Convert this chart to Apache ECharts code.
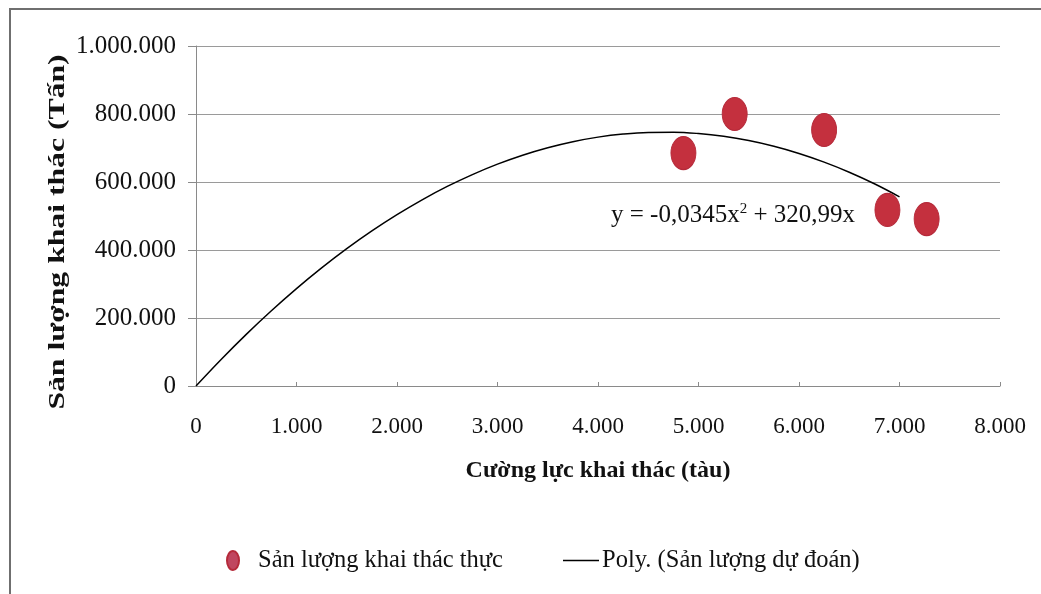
<!DOCTYPE html>
<html>
<head>
<meta charset="utf-8">
<script src="https://cdn.jsdelivr.net/npm/echarts@6/dist/echarts.min.js"></script>
<style>
html,body{margin:0;padding:0;background:#fff;}
#c{width:1041px;height:594px;}
</style>
</head>
<body>
<div id="c"></div>
<script>
// Observed data (Sản lượng khai thác thực): [effort (tàu), yield (tấn)]
const actualEffort = [4850, 5360, 6250, 6880, 7270];
const actualYield  = [685000, 800000, 753000, 518000, 491000];

// Trend line (Poly. Sản lượng dự đoán)
const trendEffort = [0, 250, 500, 750, 1000, 1250, 1500, 1750, 2000, 2250, 2500, 2750, 3000, 3250, 3500,
                     3750, 4000, 4250, 4500, 4750, 5000, 5250, 5500, 5750, 6000, 6250, 6500, 6750, 7000];
const trendYield  = [0, 78100, 151900, 221300, 286500, 347300, 403900, 456100, 504000, 547600, 586900, 621800, 652500, 678800, 700800,
                     718600, 732000, 741100, 745800, 746300, 742500, 734300, 721800, 705000, 683900, 658500, 628800, 594800, 556400];

const xTicks = ['0','1.000','2.000','3.000','4.000','5.000','6.000','7.000','8.000'];
const yTicks = ['0','200.000','400.000','600.000','800.000','1.000.000'];

const seriesNames = ['Sản lượng khai thác thực', 'Poly. (Sản lượng dự đoán)'];
const xTitle = 'Cường lực khai thác (tàu)';
const yTitle = 'Sản lượng khai thác (Tấn)';

const FONT = '"Liberation Serif", "Times New Roman", serif';
const chart = echarts.init(document.getElementById('c'), null, {renderer: 'canvas'});

const scatterData = actualEffort.map((x, i) => [x, actualYield[i]]);
const trendData = trendEffort.map((x, i) => [x, trendYield[i]]);

chart.setOption({
  backgroundColor: '#fff',
  animation: false,
  grid: {left: 196, right: 41, top: 46, bottom: 208, containLabel: false},
  xAxis: {
    type: 'value', min: 0, max: 8000, interval: 1000,
    name: xTitle, nameLocation: 'middle', nameGap: 73,
    nameTextStyle: {fontFamily: FONT, fontWeight: 'bold', fontSize: 24, color: '#111'},
    axisLine: {show: true, lineStyle: {color: '#8a8a8a', width: 1}},
    axisTick: {show: true, inside: true, length: 4, lineStyle: {color: '#8a8a8a'}},
    splitLine: {show: false},
    axisLabel: {
      margin: 29, fontFamily: FONT, fontSize: 23, color: '#111',
      formatter: v => xTicks[Math.round(v / 1000)]
    }
  },
  yAxis: {
    type: 'value', min: 0, max: 1000000, interval: 200000,
    axisLine: {show: true, lineStyle: {color: '#8a8a8a', width: 1}},
    axisTick: {show: true, length: 8, lineStyle: {color: '#8a8a8a'}},
    splitLine: {show: true, lineStyle: {color: '#9a9a9a', width: 1}},
    axisLabel: {
      margin: 20, fontFamily: FONT, fontSize: 25, color: '#111',
      formatter: v => yTicks[Math.round(v / 200000)]
    }
  },
  legend: [
    {
      data: [{name: seriesNames[0], icon: 'path://M0,50 A50,50 0 1,1 100,50 A50,50 0 1,1 0,50 Z', itemStyle: {color: '#C0465F'}}],
      left: 221, top: 543, itemWidth: 12, itemHeight: 19, symbolKeepAspect: false,
      textStyle: {fontFamily: FONT, fontSize: 24.5, color: '#111', padding: [0, 0, 0, 14]}
    },
    {
      data: [{name: seriesNames[1], icon: 'rect'}],
      left: 558, top: 543, itemWidth: 36, itemHeight: 1.5, symbolKeepAspect: false,
      textStyle: {fontFamily: FONT, fontSize: 24.5, color: '#111', padding: [0, 0, 0, -2]}
    }
  ],
  graphic: [
    {type: 'line', shape: {x1: 9, y1: 9, x2: 1041, y2: 9}, style: {stroke: '#6f6f6f', lineWidth: 2}, silent: true},
    {type: 'line', shape: {x1: 10, y1: 9, x2: 10, y2: 594}, style: {stroke: '#6f6f6f', lineWidth: 2}, silent: true},
    {
      type: 'text', x: 58, y: 232, rotation: Math.PI / 2, scaleX: 1.32, silent: true,
      style: {
        text: yTitle, fontFamily: FONT, fontWeight: 'bold', fontSize: 24, fill: '#111',
        align: 'center', verticalAlign: 'middle'
      }
    },
    {
      type: 'text', left: 611, top: 202, silent: true,
      style: {
        text: '{a|y = -0,0345x}{s|2}{a| + 320,99x}',
        rich: {
          a: {fontFamily: FONT, fontSize: 25, fill: '#111', verticalAlign: 'bottom'},
          s: {fontFamily: FONT, fontSize: 15, fill: '#111', verticalAlign: 'top', padding: [0, 0, 11, 0]}
        }
      }
    }
  ],
  series: [
    {
      name: seriesNames[0], type: 'scatter', data: scatterData,
      symbol: 'circle', symbolSize: [25, 33], z: 3,
      itemStyle: {color: '#C4303E', opacity: 1, borderColor: '#B52a3a', borderWidth: 1}
    },
    {
      name: seriesNames[1], type: 'line', data: trendData, smooth: 0.4,
      showSymbol: false, symbol: 'none', z: 2,
      lineStyle: {color: '#000', width: 1.5},
      itemStyle: {color: '#000'}
    }
  ]
});
</script>
</body>
</html>
